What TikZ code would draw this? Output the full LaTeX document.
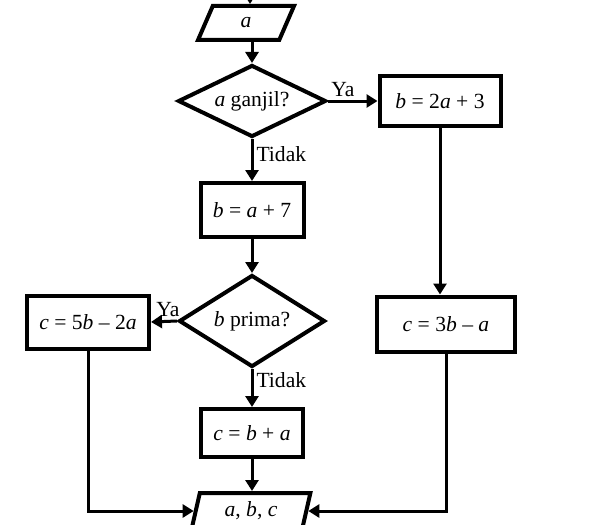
\documentclass[tikz,border=0pt]{standalone}
\usepackage{fontspec}
\setmainfont{Liberation Serif}
\usetikzlibrary{arrows.meta,shapes.geometric}
\pgfdeclarelayer{nodelayer}
\pgfdeclarelayer{edgelayer}
\pgfsetlayers{edgelayer,nodelayer,main}
\tikzstyle{proses}=[fill=white, draw=black, shape=rectangle, line width=2pt, inner sep=0pt]
\tikzstyle{keputusan}=[fill=white, draw=black, shape=diamond, aspect=2, line width=2pt, inner sep=0pt]
\tikzstyle{io}=[fill=white, draw=black, shape=trapezium, trapezium left angle=77, trapezium right angle=103, trapezium stretches=true, line width=2pt, inner sep=0pt]
\tikzstyle{alur}=[draw=black, line width=1.5pt, -{Triangle[length=5.5pt,width=6.5pt]}]
\tikzstyle{ket}=[inner sep=1.5pt]

\begin{document}
\begin{tikzpicture}[x=0.5pt, y=-0.5pt, font=\fontsize{10.8}{13}\selectfont]
	\clip (0, 0) rectangle (592, 524);
	\begin{pgfonlayer}{nodelayer}
		\node [style=io, minimum width=48pt, minimum height=17pt] (in) at (246, 23) {\textit{a}};
		\node [style=keputusan, minimum width=74pt, minimum height=36pt] (d1) at (252, 101) {\textit{a} ganjil?};
		\node [style=proses, minimum width=60.5pt, minimum height=25pt] (b1) at (440, 101) {\textit{b} = 2\textit{a} + 3};
		\node [style=proses, minimum width=51.5pt, minimum height=27pt] (b2) at (252, 210) {\textit{b} = \textit{a} + 7};
		\node [style=keputusan, minimum width=73pt, minimum height=46pt] (d2) at (252, 321) {\textit{b} prima?};
		\node [style=proses, minimum width=61pt, minimum height=26.5pt] (c1) at (88, 322) {\textit{c} = 5\textit{b} – 2\textit{a}};
		\node [style=proses, minimum width=69pt, minimum height=27.5pt] (c2) at (446, 324) {\textit{c} = 3\textit{b} – \textit{a}};
		\node [style=proses, minimum width=51pt, minimum height=24pt] (c3) at (252, 433) {\textit{c} = \textit{b} + \textit{a}};
		\node [style=io, minimum width=59.5pt, minimum height=18pt] (out) at (251, 511) {\textit{a}, \textit{b}, \textit{c}};
		\coordinate (atas) at (250, -12);
	\end{pgfonlayer}
	\begin{pgfonlayer}{edgelayer}
		\draw [style=alur] (atas) -- (atas |- in.north);
		\draw [style=alur] (d1.north |- in.south) -- (d1.north);
		\draw [style=alur] (d1.east) -- node [style=ket, above, pos=0.3] {Ya} (b1.west);
		\draw [style=alur] (d1.south) -- node [style=ket, right, pos=0.35] {Tidak} (b2.north);
		\draw [style=alur] (b2.south) -- (d2.north);
		\draw [style=alur] (d2.west) -- node [style=ket, above, pos=0.35] {Ya} (c1.east);
		\draw [style=alur] (d2.south) -- node [style=ket, right, pos=0.3] {Tidak} (c3.north);
		\draw [style=alur] (c3.south) -- (out.north -| c3.south);
		\draw [style=alur] (b1.south) -- (b1.south |- c2.north);
		\draw [style=alur] (c1.south) |- (out.west);
		\draw [style=alur] (c2.south) |- (out.east);
	\end{pgfonlayer}
\end{tikzpicture}
\end{document}
